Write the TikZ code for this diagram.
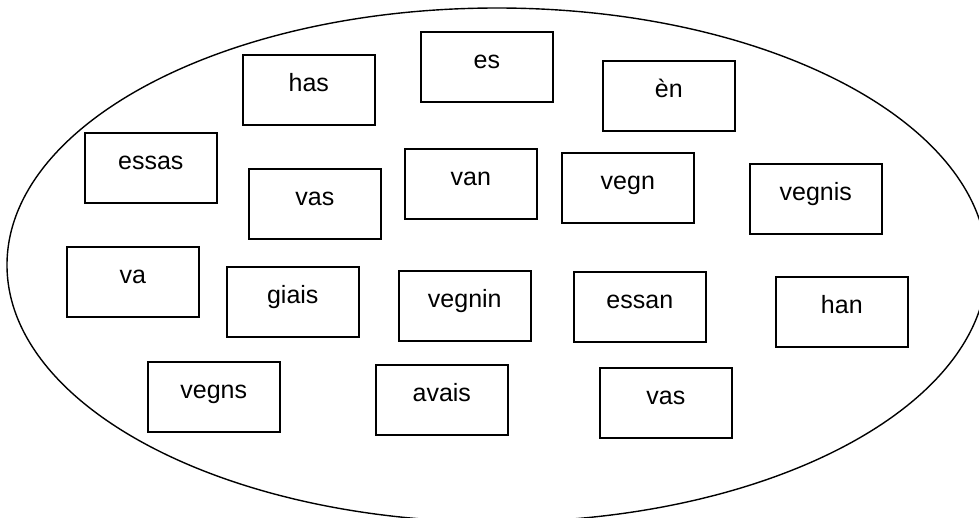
\documentclass[tikz,border=0pt]{standalone}
\usepackage{fontspec}
\setmainfont{Liberation Sans}
\begin{document}
\begin{tikzpicture}[x=1pt,y=-1pt,
  wbox/.style={draw=black, line width=1.6pt, rectangle, inner sep=0pt,
    minimum width=132pt, minimum height=70pt, text height=37pt, text depth=33pt,
    anchor=north west, font=\fontsize{25}{30}\selectfont},
  ring/.style={draw=black, line width=1.4pt}]
\useasboundingbox (0,0) rectangle (979,517);
\clip (0,0) rectangle (979,517);
\draw[ring] (497,265) ellipse [x radius=490, y radius=257];
\node[wbox] (has) at (242,54) {has};
\node[wbox] (es) at (420,31) {es};
\node[wbox] (en) at (602,60) {èn};
\node[wbox] (essas) at (84,132) {essas};
\node[wbox] (vasA) at (248,168) {vas};
\node[wbox] (van) at (404,148) {van};
\node[wbox] (vegn) at (561,152) {vegn};
\node[wbox] (vegnis) at (749,163) {vegnis};
\node[wbox] (va) at (66,246) {va};
\node[wbox] (giais) at (226,266) {giais};
\node[wbox] (vegnin) at (398,270) {vegnin};
\node[wbox] (essan) at (573,271) {essan};
\node[wbox] (han) at (775,276) {han};
\node[wbox] (vegns) at (147,361) {vegns};
\node[wbox] (avais) at (375,364) {avais};
\node[wbox] (vasB) at (599,367) {vas};
\end{tikzpicture}
\end{document}
